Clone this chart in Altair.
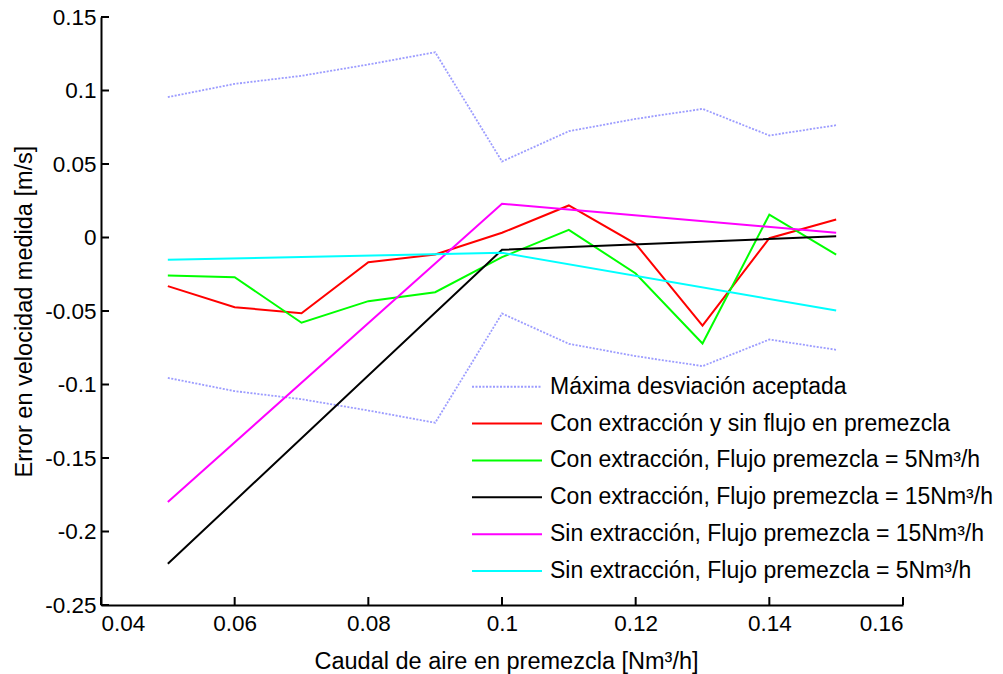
import altair as alt
import pandas as pd

FONT = "Arial, Liberation Sans, sans-serif"

# ---- data ----
x_all = [0.05, 0.06, 0.07, 0.08, 0.09, 0.10, 0.11, 0.12, 0.13, 0.14, 0.15]
dev_upper = [0.0955, 0.1045, 0.110, 0.1177, 0.126, 0.0517, 0.0723, 0.0807, 0.0875, 0.0694, 0.0764]
dev_lower = [-0.0955, -0.1045, -0.110, -0.1177, -0.126, -0.0517, -0.0723, -0.0807, -0.0875, -0.0694, -0.0764]
con_sin_flujo = [-0.0331, -0.0474, -0.0515, -0.0168, -0.0116, 0.0032, 0.0218, -0.0043, -0.0599, -0.0005, 0.0122]
con_5 = [-0.0259, -0.0270, -0.0580, -0.0433, -0.0372, -0.0134, 0.0052, -0.0245, -0.0721, 0.0156, -0.0116]
x_three = [0.05, 0.10, 0.15]
con_15 = [-0.222, -0.0084, 0.0009]
sin_15 = [-0.180, 0.0229, 0.0032]
sin_5 = [-0.0152, -0.0104, -0.0497]

labels = [
    "Máxima desviación aceptada",
    "Con extracción y sin flujo en premezcla",
    "Con extracción, Flujo premezcla = 5Nm³/h",
    "Con extracción, Flujo premezcla = 15Nm³/h",
    "Sin extracción, Flujo premezcla = 15Nm³/h",
    "Sin extracción, Flujo premezcla = 5Nm³/h",
]
colors = ["#9c9cff", "#ff0000", "#00ff00", "#000000", "#ff00ff", "#00ffff"]
dashes = [[2, 1.5], [1, 0], [1, 0], [1, 0], [1, 0], [1, 0]]

x_ticks = [0.04, 0.06, 0.08, 0.10, 0.12, 0.14, 0.16]
y_ticks = [-0.25, -0.2, -0.15, -0.1, -0.05, 0, 0.05, 0.1, 0.15]

W, H = 802, 588
FS = 22.5
TFS = 23.5
LFS = 23
xscale = alt.Scale(domain=[0.04, 0.16], nice=False, zero=False)
yscale = alt.Scale(domain=[-0.25, 0.15], nice=False, zero=False)

axis_common = dict(
    domain=True, domainColor="black", domainWidth=2, ticks=False, tickSize=0,
    grid=False, labelFont=FONT, labelFontSize=FS, labelColor="black",
    titleFont=FONT, titleFontSize=TFS, titleFontWeight="normal", titleColor="black",
    labelExpr="'' + datum.value",
)
x_axis = alt.Axis(values=x_ticks, title="Caudal de aire en premezcla [Nm³/h]",
                  labelPadding=7, titleX=405, titleY=63, titleAlign="center",
                  titleBaseline="alphabetic", **axis_common)
y_axis = alt.Axis(values=y_ticks, title="Error en velocidad medida [m/s]",
                  labelPadding=5, titleX=-77, titleY=294, titleAngle=270,
                  titleAlign="center", titleBaseline="middle", **axis_common)

X = lambda: alt.X("x:Q", scale=xscale, axis=x_axis)
Y = lambda: alt.Y("y:Q", scale=yscale, axis=y_axis)

layers = []

# axes with inward ticks drawn as rules (same fields/axes as data layers)
yt_df = pd.DataFrame({"y": y_ticks})
xt_df = pd.DataFrame({"x": x_ticks})
layers.append(alt.Chart(yt_df).mark_rule(color="black", strokeWidth=2).encode(
    y=Y(), x=alt.value(0), x2=alt.value(8)))
layers.append(alt.Chart(xt_df).mark_rule(color="black", strokeWidth=2).encode(
    x=X(), y=alt.value(H), y2=alt.value(H - 8)))

# max deviation (upper & lower)
dev_df = pd.concat([
    pd.DataFrame({"x": x_all, "y": dev_upper, "side": "upper"}),
    pd.DataFrame({"x": x_all, "y": dev_lower, "side": "lower"}),
])
layers.append(
    alt.Chart(dev_df).mark_line(color=colors[0], strokeWidth=1.8, strokeDash=dashes[0])
    .encode(x=X(), y=Y(), detail="side:N")
)

series = [
    (x_all, con_sin_flujo, colors[1]),
    (x_all, con_5, colors[2]),
    (x_three, con_15, colors[3]),
    (x_three, sin_15, colors[4]),
    (x_three, sin_5, colors[5]),
]
for xs, ys, c in series:
    layers.append(
        alt.Chart(pd.DataFrame({"x": xs, "y": ys})).mark_line(color=c, strokeWidth=2)
        .encode(x=X(), y=Y())
    )

# manual legend (inside, bottom right); rows placed with a yOffset scale
leg_df = pd.DataFrame({"label": labels, "row": list(range(len(labels)))})
row_off = alt.YOffset("row:Q", scale=alt.Scale(domain=[0, 5], range=[0, 184.3]))
LEG_TOP = 369.7
layers.append(alt.Chart(leg_df).mark_rule(strokeWidth=2).encode(
    x=alt.value(371), x2=alt.value(441), y=alt.value(LEG_TOP), yOffset=row_off,
    color=alt.Color("label:N", scale=alt.Scale(domain=labels, range=colors), legend=None),
    strokeDash=alt.StrokeDash("label:N", scale=alt.Scale(domain=labels, range=dashes), legend=None),
))
layers.append(alt.Chart(leg_df).mark_text(
    align="left", baseline="middle", font=FONT, fontSize=LFS, color="black"
).encode(x=alt.value(449), y=alt.value(LEG_TOP), yOffset=row_off, text="label:N"))

chart = alt.layer(*layers).properties(
    width=W, height=H,
    background="white",
    autosize=alt.AutoSizeParams(type="none"),
    padding={"left": 101, "top": 17, "right": 100, "bottom": 69},
).configure_view(stroke=None)

chart.save("out.html", embed_options={"renderer": "svg", "actions": False})
